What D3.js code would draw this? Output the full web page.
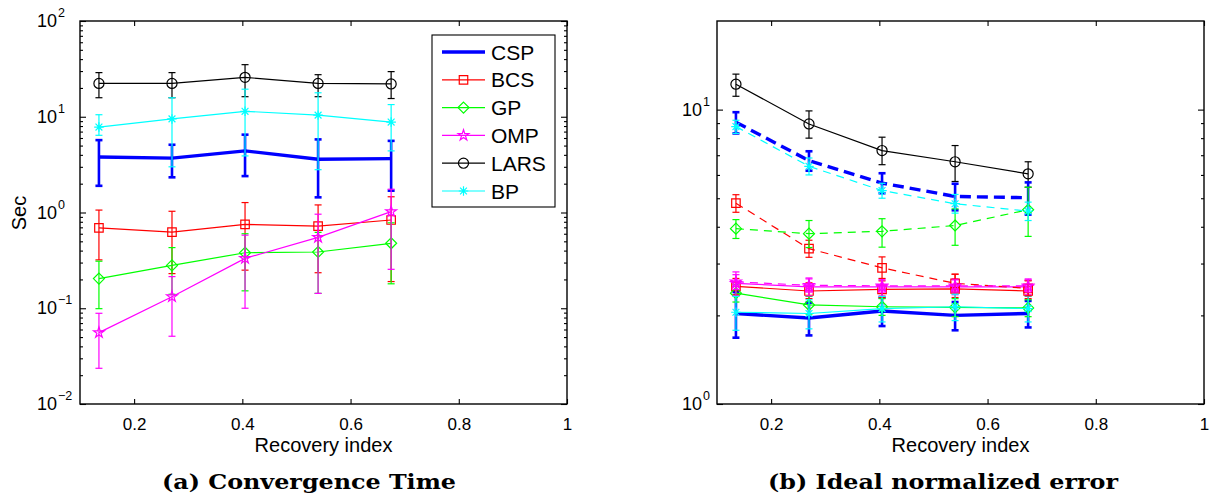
<!DOCTYPE html>
<html>
<head>
<meta charset="utf-8">
<script src="https://cdnjs.cloudflare.com/ajax/libs/d3/7.8.5/d3.min.js"></script>
<style>
  body { margin: 0; background: #fff; }
  svg { display: block; font-family: "Liberation Sans", Arial, sans-serif; }
</style>
</head>
<body>
<script>
// recovery index positions (same for both panels)
const xIndex = [0.135, 0.27, 0.405, 0.54, 0.675];
const methods = ["CSP", "BCS", "GP", "OMP", "LARS", "BP"];
const xTicks = [0.2, 0.4, 0.6, 0.8, 1];

// (a) convergence time, seconds: mean, lower and upper end of error bar
const timeCSP = [3.8, 3.7, 4.4, 3.6, 3.65];
const timeCSPLo = [1.9, 2.33, 2.4, 1.44, 1.69];
const timeCSPHi = [5.7, 5.1, 6.5, 5.8, 5.6];
const timeBCS = [0.69, 0.625, 0.753, 0.72, 0.835];
const timeBCSLo = [0.32, 0.23, 0.25, 0.235, 0.19];
const timeBCSHi = [1.06, 1.03, 1.27, 1.2, 1.46];
const timeGP = [0.204, 0.28, 0.38, 0.387, 0.477];
const timeGPLo = [0.099, 0.14, 0.152, 0.143, 0.18];
const timeGPHi = [0.31, 0.43, 0.6, 0.62, 0.78];
const timeOMP = [0.0556, 0.132, 0.332, 0.55, 1.02];
const timeOMPLo = [0.0236, 0.051, 0.1, 0.143, 0.255];
const timeOMPHi = [0.0886, 0.214, 0.58, 0.96, 1.75];
const timeLARS = [22.3, 22.3, 25.8, 22.3, 22];
const timeLARSLo = [15.8, 15.8, 16.2, 16.2, 15.5];
const timeLARSHi = [28.9, 28.9, 35, 27.5, 29.6];
const timeBP = [7.8, 9.5, 11.4, 10.4, 8.8];
const timeBPLo = [6.4, 3.0, 3.9, 2.8, 4.4];
const timeBPHi = [10.5, 15.8, 19.4, 17.8, 13.4];

// (b) ideal normalized error, solid lines
const errCSP = [2.03, 1.96, 2.07, 2.0, 2.03];
const errCSPLo = [1.68, 1.71, 1.84, 1.78, 1.82];
const errCSPHi = [2.4, 2.21, 2.3, 2.22, 2.24];
const errBCS = [2.51, 2.42, 2.45, 2.46, 2.42];
const errBCSLo = [2.35, 2.28, 2.3, 2.3, 2.28];
const errBCSHi = [2.67, 2.58, 2.62, 2.76, 2.63];
const errGP = [2.38, 2.17, 2.14, 2.13, 2.12];
const errGPLo = [2.22, 2.02, 2.0, 1.98, 1.98];
const errGPHi = [2.55, 2.32, 2.28, 2.28, 2.26];
const errOMP = [2.57, 2.5, 2.5, 2.5, 2.5];
const errOMPLo = [2.33, 2.33, 2.33, 2.35, 2.35];
const errOMPHi = [2.81, 2.68, 2.66, 2.66, 2.66];
const errLARS = [12.2, 8.94, 7.26, 6.65, 6.05];
const errLARSLo = [11.1, 8.0, 6.5, 5.7, 5.45];
const errLARSHi = [13.2, 9.9, 8.06, 7.55, 6.65];
const errBP = [2.05, 2.03, 2.11, 2.14, 2.11];
const errBPLo = [1.78, 1.8, 1.9, 1.92, 1.9];
const errBPHi = [2.32, 2.26, 2.32, 2.36, 2.32];

// (b) dashed lines
const errCSP2 = [9.06, 6.71, 5.63, 5.07, 5.02];
const errCSP2Lo = [8.3, 6.2, 5.2, 4.55, 4.4];
const errCSP2Hi = [9.8, 7.22, 6.08, 5.6, 5.66];
const errBCS2 = [4.81, 3.37, 2.9, 2.57, 2.47];
const errBCS2Lo = [4.48, 3.15, 2.67, 2.4, 2.33];
const errBCS2Hi = [5.14, 3.6, 3.16, 2.76, 2.62];
const errGP2 = [3.94, 3.79, 3.86, 4.04, 4.57];
const errGP2Lo = [3.65, 3.4, 3.41, 3.46, 3.71];
const errGP2Hi = [4.23, 4.2, 4.26, 4.6, 5.45];
const errOMP2 = [2.6, 2.53, 2.52, 2.52, 2.52];
const errOMP2Lo = [2.45, 2.4, 2.4, 2.4, 2.4];
const errOMP2Hi = [2.75, 2.66, 2.64, 2.64, 2.64];
const errBP2 = [8.76, 6.42, 5.31, 4.79, 4.52];
const errBP2Lo = [8.3, 6.0, 5.0, 4.45, 4.2];
const errBP2Hi = [9.2, 6.85, 5.62, 5.15, 4.85];

const color = d3.scaleOrdinal()
  .domain(methods)
  .range(["#0000ff", "#ff0000", "#00ff00", "#ff00ff", "#000000", "#00ffff"]);

// MATLAB-ish marker shapes
const diamond = { draw(c, s) { const r = Math.sqrt(s) / 2; c.moveTo(0, -r); c.lineTo(r, 0); c.lineTo(0, r); c.lineTo(-r, 0); c.closePath(); } };
const asterisk = { draw(c, s) { const r = Math.sqrt(s) / 2, d = r * 0.72;
  c.moveTo(-r, 0); c.lineTo(r, 0); c.moveTo(0, -r); c.lineTo(0, r);
  c.moveTo(-d, -d); c.lineTo(d, d); c.moveTo(-d, d); c.lineTo(d, -d); } };
const markerOf = {
  CSP: null,
  BCS: d3.symbol().type(d3.symbolSquare).size(72),
  GP: d3.symbol().type(diamond).size(121),
  OMP: d3.symbol().type(d3.symbolStar).size(36),
  LARS: d3.symbol().type(d3.symbolCircle).size(80),
  BP: d3.symbol().type(asterisk).size(90)
};

function mk(name, mean, lo, hi, dashed) {
  return { name, mean, lo, hi, dashed: !!dashed };
}

const timeSeries = [
  mk("CSP", timeCSP, timeCSPLo, timeCSPHi),
  mk("BCS", timeBCS, timeBCSLo, timeBCSHi),
  mk("GP", timeGP, timeGPLo, timeGPHi),
  mk("OMP", timeOMP, timeOMPLo, timeOMPHi),
  mk("LARS", timeLARS, timeLARSLo, timeLARSHi),
  mk("BP", timeBP, timeBPLo, timeBPHi)
];

const errSeries = [
  mk("CSP", errCSP, errCSPLo, errCSPHi),
  mk("BCS", errBCS, errBCSLo, errBCSHi),
  mk("GP", errGP, errGPLo, errGPHi),
  mk("OMP", errOMP, errOMPLo, errOMPHi),
  mk("LARS", errLARS, errLARSLo, errLARSHi),
  mk("BP", errBP, errBPLo, errBPHi),
  mk("CSP", errCSP2, errCSP2Lo, errCSP2Hi, true),
  mk("BCS", errBCS2, errBCS2Lo, errBCS2Hi, true),
  mk("GP", errGP2, errGP2Lo, errGP2Hi, true),
  mk("OMP", errOMP2, errOMP2Lo, errOMP2Hi, true),
  mk("BP", errBP2, errBP2Lo, errBP2Hi, true)
];

const svg = d3.select("body").append("svg")
  .attr("width", 1213)
  .attr("height", 501);

const plotTop = 21, plotBottom = 404, plotW = 487;

function drawPanel(cfg) {
  const x = d3.scaleLinear().domain([0.1, 1]).range([cfg.left, cfg.left + plotW]);
  const y = d3.scaleLog().domain(cfg.yDomain).range([plotBottom, plotTop]);
  const g = svg.append("g");

  // minor log ticks, both sides, inward
  const minor = [];
  for (let e = Math.floor(Math.log10(cfg.yDomain[0])); e < Math.log10(cfg.yDomain[1]); e++) {
    for (let k = 2; k <= 9; k++) {
      const v = k * Math.pow(10, e);
      if (v > cfg.yDomain[0] && v < cfg.yDomain[1]) minor.push(v);
    }
  }
  const majors = cfg.yMajor;

  g.append("g").attr("transform", `translate(${cfg.left},0)`)
    .call(d3.axisLeft(y).tickValues(minor).tickSizeInner(-3).tickSizeOuter(0).tickFormat(""));
  g.append("g").attr("transform", `translate(${cfg.left + plotW},0)`)
    .call(d3.axisRight(y).tickValues(minor).tickSizeInner(-3).tickSizeOuter(0).tickFormat(""));
  g.append("g").attr("transform", `translate(${cfg.left},0)`)
    .call(d3.axisLeft(y).tickValues(majors).tickSizeInner(-6).tickSizeOuter(0).tickFormat(""));
  g.append("g").attr("transform", `translate(${cfg.left + plotW},0)`)
    .call(d3.axisRight(y).tickValues(majors).tickSizeInner(-6).tickSizeOuter(0).tickFormat(""));

  // x axes, bottom with labels, top ticks only
  g.append("g").attr("transform", `translate(0,${plotBottom})`)
    .call(d3.axisBottom(x).tickValues(xTicks).tickSizeInner(-5).tickSizeOuter(0)
      .tickPadding(14).tickFormat(d3.format("~g")))
    .call(a => a.selectAll("text").attr("font-size", 17).attr("fill", "#000")
      .attr("font-family", "Liberation Sans, Arial, sans-serif"));
  g.append("g").attr("transform", `translate(0,${plotTop})`)
    .call(d3.axisTop(x).tickValues(xTicks).tickSizeInner(-5).tickSizeOuter(0).tickFormat(""));

  g.selectAll(".domain").remove();
  g.selectAll(".tick line").attr("stroke", "#000").attr("stroke-width", 1.1);

  // y labels as 10^e
  const yl = g.append("g").selectAll("text").data(majors).join("text")
    .attr("x", cfg.left - cfg.yLabelOffset)
    .attr("y", d => y(d) + 6)
    .attr("font-size", 18)
    .attr("fill", "#000");
  yl.append("tspan").text("10");
  yl.append("tspan").attr("dx", 1).attr("dy", -10).attr("font-size", 12.5)
    .text(d => { const e = Math.round(Math.log10(d)); return e < 0 ? "\u2212" + (-e) : e; });

  // box
  g.append("rect")
    .attr("x", cfg.left).attr("y", plotTop).attr("width", plotW).attr("height", plotBottom - plotTop)
    .attr("fill", "none").attr("stroke", "#000").attr("stroke-width", 1.4);

  // series
  const line = d3.line().x((d, i) => x(xIndex[i])).y(d => y(d));
  cfg.series.forEach(s => {
    const c = color(s.name);
    const thick = s.name === "CSP";
    const sg = g.append("g");
    sg.append("path")
      .attr("d", line(s.mean))
      .attr("fill", "none")
      .attr("stroke", c)
      .attr("stroke-width", thick ? 3.4 : 1.2)
      .attr("stroke-dasharray", s.dashed ? (thick ? "11,6" : "8,6") : null);

    const pts = s.mean.map((m, i) => ({ x: xIndex[i], m, lo: s.lo[i], hi: s.hi[i] }));
    const bw = thick ? 2.6 : 1.2;
    sg.selectAll(".bar").data(pts).join("line")
      .attr("x1", d => x(d.x)).attr("x2", d => x(d.x))
      .attr("y1", d => y(d.lo)).attr("y2", d => y(d.hi))
      .attr("stroke", c).attr("stroke-width", bw);
    ["lo", "hi"].forEach(k => {
      sg.selectAll(".cap" + k).data(pts).join("line")
        .attr("x1", d => x(d.x) - 3.5).attr("x2", d => x(d.x) + 3.5)
        .attr("y1", d => y(d[k])).attr("y2", d => y(d[k]))
        .attr("stroke", c).attr("stroke-width", bw);
    });
    if (markerOf[s.name]) {
      sg.selectAll(".mk").data(pts).join("path")
        .attr("d", markerOf[s.name])
        .attr("transform", d => `translate(${x(d.x)},${y(d.m)})`)
        .attr("fill", "none")
        .attr("stroke", c)
        .attr("stroke-width", 1.2);
    }
  });

  // axis labels and caption
  g.append("text")
    .attr("x", cfg.left + plotW / 2).attr("y", 452)
    .attr("text-anchor", "middle").attr("font-size", 20)
    .text("Recovery index");
  g.append("text")
    .attr("x", cfg.captionX).attr("y", 489)
    .attr("text-anchor", "middle")
    .attr("font-family", "DejaVu Serif, Liberation Serif, serif")
    .attr("font-weight", "bold").attr("font-size", 21)
    .attr("textLength", cfg.captionW).attr("lengthAdjust", "spacingAndGlyphs")
    .text(cfg.caption);
  if (cfg.ylabel) {
    g.append("text")
      .attr("transform", `translate(26,213) rotate(-90)`)
      .attr("text-anchor", "middle").attr("font-size", 20)
      .text(cfg.ylabel);
  }
  return { g, x, y };
}

const left = drawPanel({
  left: 80, yDomain: [0.01, 100], yMajor: [0.01, 0.1, 1, 10, 100], yLabelOffset: 43,
  series: timeSeries, caption: "(a) Convergence Time", captionX: 309, captionW: 294, ylabel: "Sec"
});

drawPanel({
  left: 717, yDomain: [1, 20], yMajor: [1, 10], yLabelOffset: 35,
  series: errSeries, caption: "(b) Ideal normalized error", captionX: 943, captionW: 350
});

// legend (left panel only)
const lg = left.g.append("g");
lg.append("rect")
  .attr("x", 432).attr("y", 35).attr("width", 123).attr("height", 172)
  .attr("fill", "#fff").attr("stroke", "#000").attr("stroke-width", 1.1);
const ly = d3.scalePoint().domain(methods).range([52, 191]);
const items = lg.selectAll(".item").data(methods).join("g")
  .attr("transform", d => `translate(0,${ly(d)})`);
items.append("line")
  .attr("x1", 442).attr("x2", 485).attr("y1", 0).attr("y2", 0)
  .attr("stroke", d => color(d))
  .attr("stroke-width", d => d === "CSP" ? 3.4 : 1.2);
items.filter(d => markerOf[d]).append("path")
  .attr("d", d => markerOf[d]())
  .attr("transform", "translate(463.5,0)")
  .attr("fill", "none")
  .attr("stroke", d => color(d))
  .attr("stroke-width", 1.2);
items.append("text")
  .attr("x", 491).attr("y", 7.5)
  .attr("font-size", 21)
  .text(d => d);
</script>
</body>
</html>
